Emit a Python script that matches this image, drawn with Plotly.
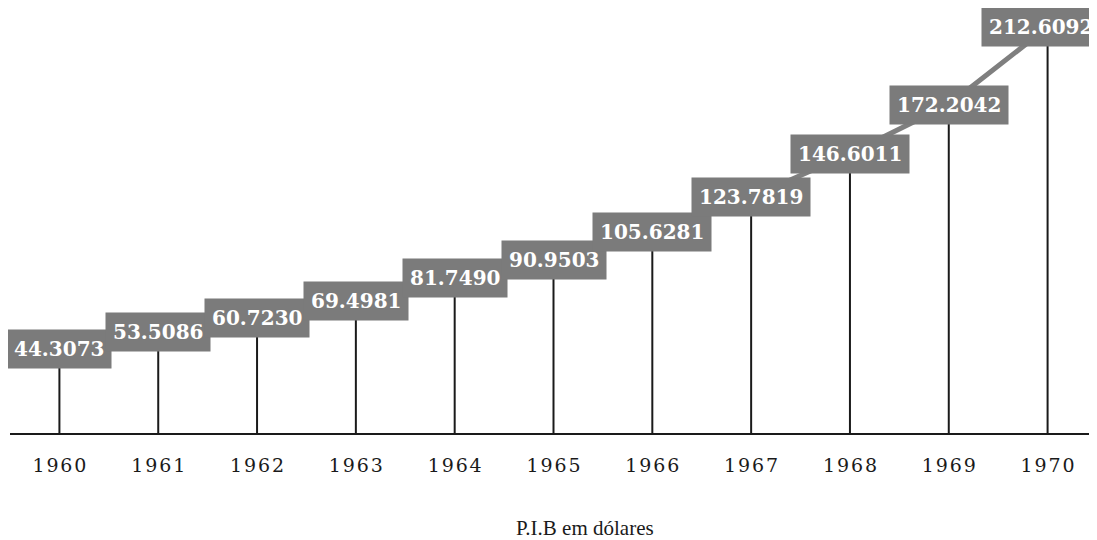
import plotly.graph_objects as go

years = [1960, 1961, 1962, 1963, 1964, 1965, 1966, 1967, 1968, 1969, 1970]
pib = [44.3073, 53.5086, 60.7230, 69.4981, 81.7490, 90.9503, 105.6281, 123.7819, 146.6011, 172.2042, 212.6092]
labels = ["%.4f" % v for v in pib]
tick_labels = ["\u200a".join(str(y)) for y in years]

# page has an 8px body margin; compensate so the chart lands where the reference has it
W, H = 1089, 532
ML, MB = 2, 106
plot_w = W - ML
plot_h = H - MB

fig = go.Figure()

# drop lines
dx, dy = [], []
for x, y in zip(years, pib):
    dx += [x, x, None]
    dy += [0, y, None]
fig.add_trace(go.Scatter(x=dx, y=dy, mode="lines", line=dict(color="#1a1a1a", width=2),
                         hoverinfo="skip", showlegend=False))

# connecting line
fig.add_trace(go.Scatter(x=years, y=pib, mode="lines", line=dict(color="#7f7f7f", width=5),
                         showlegend=False))

n = len(years)
for i, (x, y, t) in enumerate(zip(years, pib, labels)):
    fig.add_annotation(x=x, y=y, text="<b>" + t + "</b>", showarrow=False,
                       bgcolor="#7b7b7b", borderpad=7,
                       xshift=-7 if i == n - 1 else 0,
                       font=dict(family="DejaVu Serif", size=20, color="white"))

fig.add_annotation(text="P.I.B em dólares", showarrow=False,
                   xref="paper", yref="paper",
                   x=(577 - ML) / plot_w, y=-(520 - plot_h) / plot_h,
                   xanchor="center", yanchor="middle",
                   font=dict(family="Liberation Serif", size=21, color="#1a1a1a"))

fig.update_layout(
    width=W, height=H,
    margin=dict(l=ML, r=0, t=0, b=MB, autoexpand=False),
    plot_bgcolor="white", paper_bgcolor="white",
    showlegend=False,
    xaxis=dict(range=[1959.5, 1970.5], tickmode="array", tickvals=years, ticktext=tick_labels,
               showgrid=False, zeroline=False, showline=False, ticks="",
               tickfont=dict(family="DejaVu Serif", size=19, color="#1a1a1a"), ticklabelstandoff=18),
    yaxis=dict(range=[0, 222.7], showgrid=False, zeroline=True, zerolinecolor="#1a1a1a",
               zerolinewidth=2, showticklabels=False, showline=False),
)

fig.write_html("out.html")
